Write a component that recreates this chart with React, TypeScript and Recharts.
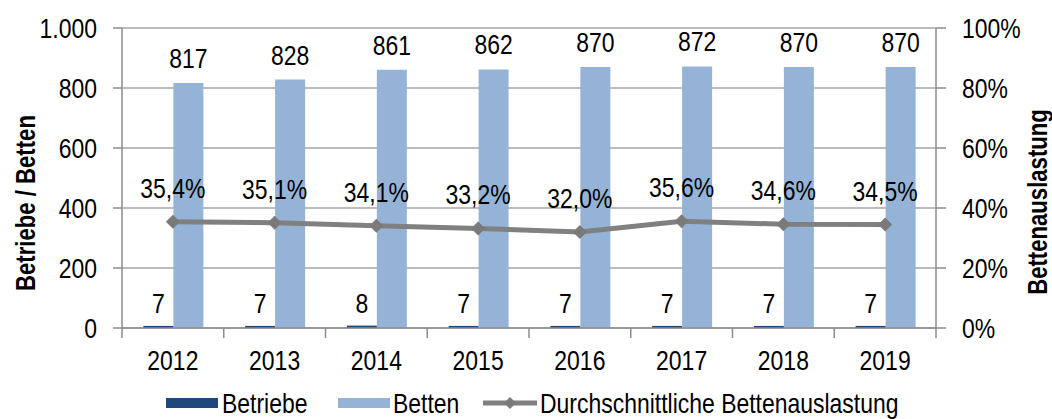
import React from "react";
import {
  ComposedChart,
  Bar,
  Line,
  XAxis,
  YAxis,
  CartesianGrid,
  Legend,
  LabelList,
  Label,
} from "recharts";

const years = ["2012", "2013", "2014", "2015", "2016", "2017", "2018", "2019"];
const betriebe = [7, 7, 8, 7, 7, 7, 7, 7];
const betten = [817, 828, 861, 862, 870, 872, 870, 870];
const auslastung = [35.4, 35.1, 34.1, 33.2, 32.0, 35.6, 34.6, 34.5];
const leftTicks = [0, 200, 400, 600, 800, 1000];
const rightTicks = [0, 20, 40, 60, 80, 100];

// no narrow font installed, so Liberation Sans gets squeezed horizontally
const FONT = "'Liberation Sans', Arial, sans-serif";
const SQUEEZE = 0.82;
const FS = 28;
const DARK = "#1F497D";
const LIGHT = "#95B3D7";
const LINE = "#808080";
const AXIS = "#8c8c8c";
const GRID = "#a6a6a6";

const W = 1052;
const H = 419;
const LEFT_W = 122;
const RIGHT_W = 116;
const BAND = (W - LEFT_W - RIGHT_W) / years.length;

const rows = years.map((year, i) => ({
  year,
  betriebe: betriebe[i],
  betten: betten[i],
  auslastung: auslastung[i],
}));

const thousands = (v: number) => String(v).replace(/\B(?=(\d{3})+(?!\d))/g, ".");
const pct = (v: number) => `${v.toFixed(1).replace(".", ",")}%`;

function NText({
  x,
  y,
  anchor = "middle",
  size = FS,
  bold = false,
  rotate = 0,
  dy,
  children,
}: {
  x: number;
  y: number;
  anchor?: "start" | "middle" | "end";
  size?: number;
  bold?: boolean;
  rotate?: number;
  dy?: string;
  children: React.ReactNode;
}) {
  return (
    <text
      transform={`translate(${x},${y}) rotate(${rotate}) scale(${SQUEEZE},1)`}
      textAnchor={anchor}
      dy={dy}
      fontSize={size}
      fontWeight={bold ? "bold" : "normal"}
      fontFamily={FONT}
      fill="#000"
    >
      {children}
    </text>
  );
}

function YearTick(props: any) {
  const { x, y, payload, index, visibleTicksCount } = props;
  const half = payload?.offset > 0 ? payload.offset : BAND / 2;
  return (
    <g>
      <line x1={x - half} x2={x - half} y1={y} y2={y + 10} stroke={AXIS} strokeWidth={1.5} />
      {index === visibleTicksCount - 1 && (
        <line x1={x + half} x2={x + half} y1={y} y2={y + 10} stroke={AXIS} strokeWidth={1.5} />
      )}
      <NText x={x} y={y + 42}>{payload.value}</NText>
    </g>
  );
}

function LeftTick(props: any) {
  const { x, y, payload } = props;
  return (
    <NText x={x} y={y} anchor="end" dy="0.355em">
      {thousands(payload.value)}
    </NText>
  );
}

function RightTick(props: any) {
  const { x, y, payload } = props;
  return (
    <NText x={x} y={y} anchor="start" dy="0.355em">
      {`${payload.value}%`}
    </NText>
  );
}

function topLabel(offset: number, fmt: (v: number) => string = String) {
  return (p: any) => {
    const cx = p.x + (p.width || 0) / 2;
    return (
      <NText key={`l-${p.index}-${p.x}`} x={cx} y={p.y - offset}>
        {fmt(Number(p.value))}
      </NText>
    );
  };
}

function Diamond(props: any) {
  const { cx, cy, index } = props;
  if (cx == null || cy == null) return <g key={`d-${index}`} />;
  return (
    <path
      key={`d-${index}`}
      d={`M${cx},${cy - 7} L${cx + 7},${cy} L${cx},${cy + 7} L${cx - 7},${cy} Z`}
      fill="#7a7a7a"
    />
  );
}

function LegendBox() {
  return (
    <svg width={W} height={36} style={{ display: "block" }}>
      <rect x={166} y={15} width={52} height={10} fill={DARK} />
      <NText x={222} y={20} anchor="start" dy="0.355em">Betriebe</NText>
      <rect x={338} y={15} width={52} height={10} fill={LIGHT} />
      <NText x={393} y={20} anchor="start" dy="0.355em">Betten</NText>
      <line x1={483} x2={537} y1={20} y2={20} stroke={LINE} strokeWidth={5} />
      <path d="M510,14 L516,20 L510,26 L504,20 Z" fill="#7a7a7a" />
      <NText x={540} y={20} anchor="start" dy="0.355em">Durchschnittliche Bettenauslastung</NText>
    </svg>
  );
}

export default function App() {
  return (
    <div style={{ position: "absolute", left: 0, top: 0, width: W, height: H, background: "#fff" }}>
      <ComposedChart
        width={W}
        height={H}
        data={rows}
        margin={{ top: 28, right: 0, bottom: 0, left: 0 }}
        barCategoryGap="21%"
        barGap={0}
      >
        <CartesianGrid yAxisId="left" vertical={false} stroke={GRID} strokeWidth={1.5} />
        <XAxis
          dataKey="year"
          height={55}
          axisLine={{ stroke: AXIS, strokeWidth: 1.5 }}
          tickLine={false}
          tickSize={0}
          tickMargin={0}
          interval={0}
          tick={<YearTick />}
        />
        <YAxis
          yAxisId="left"
          width={LEFT_W}
          domain={[0, 1000]}
          ticks={leftTicks}
          axisLine={{ stroke: AXIS, strokeWidth: 1.5 }}
          tickLine={{ stroke: AXIS, strokeWidth: 1.5 }}
          tickSize={9}
          tickMargin={16}
          tick={<LeftTick />}
        >
          <Label
            content={(p: any) => {
              const vb = p.viewBox;
              return (
                <NText x={vb.x + 25} y={vb.y + vb.height / 2 + 25} rotate={-90} size={27} bold dy="0.355em">
                  Betriebe / Betten
                </NText>
              );
            }}
          />
        </YAxis>
        <YAxis
          yAxisId="right"
          orientation="right"
          width={RIGHT_W}
          domain={[0, 100]}
          ticks={rightTicks}
          axisLine={{ stroke: AXIS, strokeWidth: 1.5 }}
          tickLine={{ stroke: AXIS, strokeWidth: 1.5 }}
          tickSize={10}
          tickMargin={16}
          tick={<RightTick />}
        >
          <Label
            content={(p: any) => {
              const vb = p.viewBox;
              return (
                <NText x={vb.x + 101} y={vb.y + vb.height / 2 + 24} rotate={-90} size={27} bold dy="0.355em">
                  Bettenauslastung
                </NText>
              );
            }}
          />
        </YAxis>
        <Bar yAxisId="left" dataKey="betriebe" fill={DARK} isAnimationActive={false}>
          <LabelList dataKey="betriebe" content={topLabel(13)} />
        </Bar>
        <Bar yAxisId="left" dataKey="betten" fill={LIGHT} isAnimationActive={false}>
          <LabelList dataKey="betten" content={topLabel(15)} />
        </Bar>
        <Line
          yAxisId="right"
          dataKey="auslastung"
          stroke={LINE}
          strokeWidth={5}
          dot={<Diamond />}
          activeDot={false}
          isAnimationActive={false}
        >
          <LabelList dataKey="auslastung" content={topLabel(24, pct)} />
        </Line>
        <Legend verticalAlign="bottom" height={36} content={() => <LegendBox />} />
      </ComposedChart>
    </div>
  );
}
